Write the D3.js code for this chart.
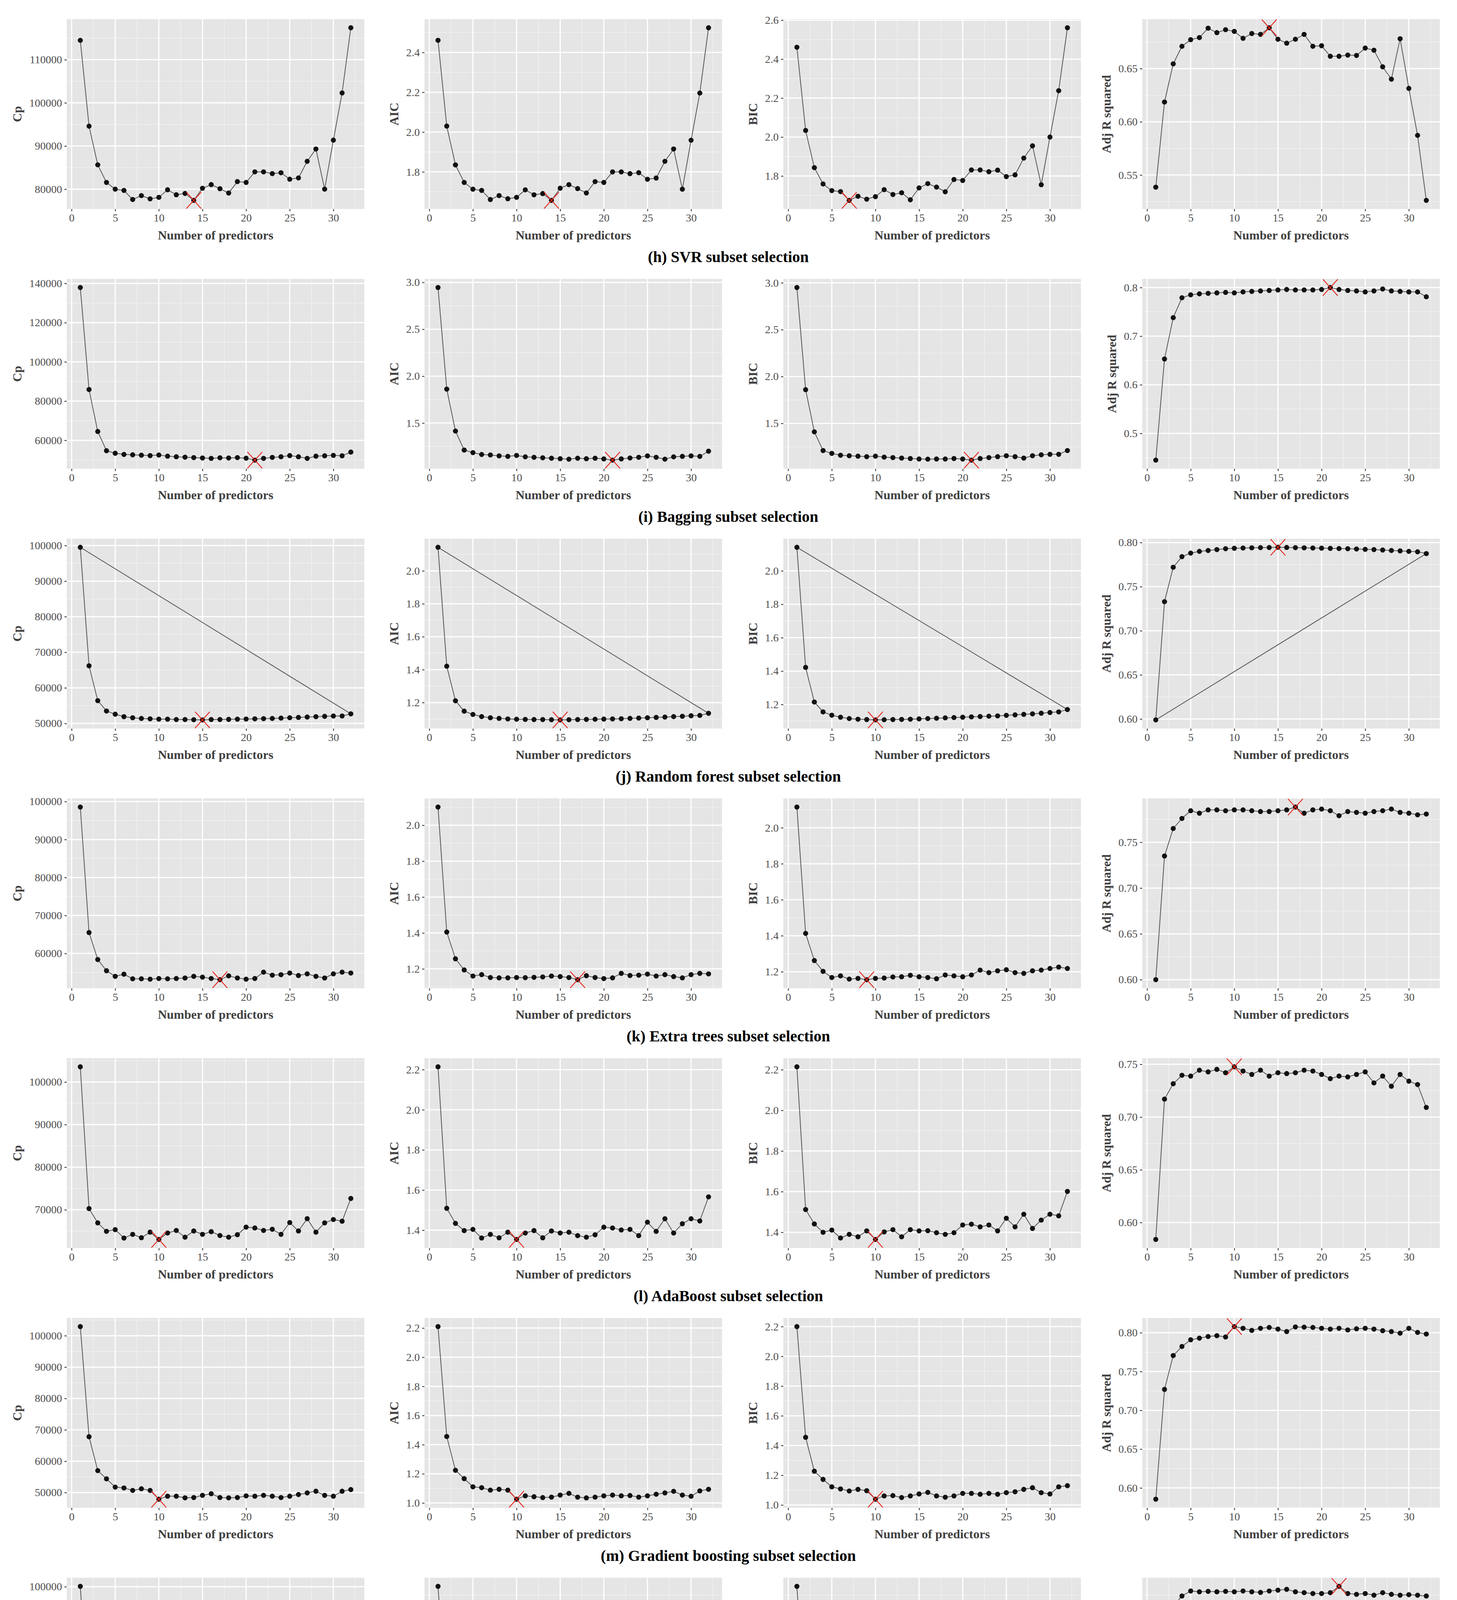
<!DOCTYPE html>
<html><head><meta charset="utf-8">
<script src="https://cdnjs.cloudflare.com/ajax/libs/d3/7.8.5/d3.min.js"></script>
<style>html,body{margin:0;padding:0;background:#fff;overflow:hidden;width:3731px;height:5368px}svg{display:block}</style></head>
<body><svg id="c" width="3731" height="5368" viewBox="0 0 3731 5368"></svg>
<script>
const xValues = d3.range(1, 33);
const xTicks = [0,5,10,15,20,25,30];
const yTitles = ["Cp","AIC","BIC","Adj R squared"];
const captions = ["(h) SVR subset selection","(i) Bagging subset selection","(j) Random forest subset selection","(k) Extra trees subset selection","(l) AdaBoost subset selection","(m) Gradient boosting subset selection","(n) CatBoost subset selection","(o) XGBoost subset selection"];

const svrCp=[114490,94600,85630,81550,80000,79700,77600,78500,77750,78100,79850,78700,79000,77400,80200,81050,80100,79100,81750,81550,84000,84000,83600,83800,82300,82600,86450,89300,80000,91350,102300,117400];
const svrAic=[2.461,2.030,1.835,1.747,1.713,1.707,1.661,1.681,1.665,1.672,1.710,1.685,1.691,1.657,1.718,1.736,1.716,1.694,1.751,1.747,1.800,1.800,1.791,1.796,1.763,1.769,1.853,1.915,1.713,1.959,2.196,2.524];
const svrBic=[2.461,2.034,1.843,1.759,1.725,1.720,1.675,1.696,1.681,1.694,1.730,1.705,1.714,1.678,1.739,1.761,1.743,1.719,1.782,1.777,1.831,1.831,1.822,1.830,1.797,1.806,1.892,1.955,1.755,2.000,2.238,2.561];
const svrR2=[0.5386,0.6186,0.6545,0.6710,0.6772,0.6792,0.6880,0.6838,0.6866,0.6850,0.6785,0.6830,0.6822,0.6884,0.6776,0.6739,0.6776,0.6822,0.6710,0.6715,0.6616,0.6616,0.6627,0.6624,0.6693,0.6673,0.6517,0.6401,0.6781,0.6314,0.5873,0.5262];

const bagCp=[137900,85900,64500,54700,53400,52800,52600,52400,52200,52500,51900,51600,51400,51200,51000,50800,51100,51000,51200,50900,49900,50800,51300,51600,52200,51600,50800,51900,52100,52300,52100,54000];
const bagAic=[2.945,1.862,1.415,1.212,1.185,1.165,1.160,1.150,1.145,1.155,1.140,1.135,1.130,1.125,1.120,1.115,1.125,1.120,1.125,1.118,1.105,1.118,1.128,1.135,1.150,1.135,1.115,1.140,1.145,1.150,1.145,1.200];
const bagBic=[2.950,1.860,1.410,1.210,1.180,1.160,1.155,1.150,1.145,1.150,1.140,1.135,1.130,1.125,1.120,1.118,1.120,1.120,1.125,1.120,1.108,1.125,1.135,1.145,1.155,1.145,1.130,1.155,1.165,1.170,1.170,1.210];
const bagR2=[0.445,0.653,0.738,0.779,0.785,0.787,0.788,0.789,0.790,0.789,0.791,0.792,0.793,0.794,0.795,0.796,0.795,0.795,0.795,0.796,0.800,0.796,0.794,0.793,0.791,0.793,0.797,0.793,0.792,0.791,0.791,0.781];

const rfCp=[99500,66200,56400,53500,52600,51900,51600,51400,51300,51200,51200,51100,51100,51050,51000,51100,51100,51150,51200,51250,51300,51350,51400,51500,51600,51700,51800,51900,52000,52100,52100,52700];
const rfAic=[2.143,1.421,1.211,1.148,1.128,1.115,1.108,1.104,1.101,1.099,1.098,1.097,1.097,1.096,1.095,1.096,1.097,1.098,1.099,1.100,1.101,1.102,1.104,1.106,1.108,1.110,1.112,1.115,1.117,1.120,1.122,1.135];
const rfBic=[2.141,1.422,1.215,1.156,1.136,1.124,1.116,1.112,1.110,1.108,1.109,1.110,1.111,1.112,1.114,1.116,1.118,1.120,1.122,1.124,1.126,1.128,1.130,1.132,1.135,1.138,1.141,1.144,1.148,1.152,1.156,1.170];
const rfR2=[0.599,0.733,0.772,0.784,0.788,0.790,0.791,0.792,0.793,0.7935,0.7938,0.794,0.7942,0.7943,0.7946,0.7944,0.7942,0.794,0.7938,0.7936,0.7934,0.7932,0.793,0.7927,0.7923,0.792,0.7915,0.791,0.7905,0.790,0.7895,0.7875];

const etCp=[98550,65500,58400,55450,53970,54540,53320,53320,53230,53400,53320,53400,53540,53970,53760,53400,53100,54100,53540,53230,53400,55070,54280,54410,54850,54190,54630,53970,53540,54630,55070,54850];
const etAic=[2.101,1.405,1.256,1.194,1.160,1.168,1.152,1.150,1.150,1.152,1.151,1.153,1.155,1.160,1.157,1.152,1.140,1.162,1.152,1.146,1.150,1.175,1.163,1.165,1.171,1.160,1.168,1.157,1.150,1.168,1.175,1.172];
const etBic=[2.115,1.413,1.262,1.202,1.168,1.177,1.159,1.163,1.156,1.163,1.165,1.171,1.172,1.180,1.172,1.168,1.161,1.182,1.177,1.172,1.182,1.209,1.195,1.205,1.211,1.195,1.191,1.205,1.209,1.218,1.226,1.218];
const etR2=[0.600,0.735,0.765,0.776,0.7844,0.7817,0.7853,0.7853,0.7844,0.7853,0.7853,0.7844,0.7835,0.7835,0.7844,0.7853,0.7884,0.7817,0.7853,0.7862,0.7844,0.7790,0.7835,0.7826,0.7817,0.7835,0.7844,0.7862,0.7826,0.7817,0.7799,0.7808];

const adaCp=[103560,70280,66920,64940,65340,63360,64230,63440,64740,63040,64550,65140,63560,65020,64230,64860,63950,63560,64150,65930,65730,65140,65420,64230,67000,65020,67910,64740,66920,67710,67310,72650];
const adaAic=[2.214,1.509,1.434,1.398,1.404,1.361,1.379,1.362,1.390,1.354,1.386,1.398,1.362,1.396,1.386,1.390,1.373,1.365,1.377,1.415,1.411,1.401,1.404,1.373,1.440,1.394,1.457,1.386,1.432,1.457,1.446,1.566];
const adaBic=[2.214,1.512,1.441,1.400,1.411,1.372,1.390,1.378,1.407,1.365,1.402,1.413,1.378,1.413,1.407,1.408,1.398,1.390,1.398,1.436,1.440,1.427,1.436,1.407,1.469,1.427,1.489,1.419,1.460,1.489,1.481,1.601];
const adaR2=[0.584,0.717,0.7316,0.7396,0.7388,0.7444,0.7428,0.7452,0.742,0.7476,0.7436,0.7404,0.7444,0.7388,0.742,0.7412,0.742,0.7444,0.7436,0.7404,0.7364,0.7388,0.738,0.7404,0.7428,0.7324,0.7388,0.7292,0.7404,0.734,0.7308,0.7091];

const gbCp=[102900,67790,57000,54370,51740,51470,50680,51210,50680,47890,48840,48840,48320,48420,49110,49630,48420,48320,48420,48950,48840,49110,48840,48420,48840,49370,49890,50420,49110,48840,50420,50950];
const gbAic=[2.210,1.456,1.224,1.167,1.111,1.105,1.088,1.094,1.088,1.026,1.049,1.043,1.037,1.040,1.054,1.066,1.040,1.035,1.040,1.049,1.054,1.049,1.051,1.040,1.049,1.060,1.069,1.080,1.054,1.046,1.083,1.094];
const gbBic=[2.200,1.455,1.227,1.172,1.122,1.108,1.094,1.105,1.096,1.039,1.061,1.063,1.050,1.061,1.074,1.085,1.061,1.052,1.061,1.078,1.078,1.072,1.078,1.072,1.083,1.089,1.105,1.116,1.083,1.074,1.122,1.130];
const gbR2=[0.5855,0.727,0.7706,0.7823,0.7909,0.7930,0.7951,0.7962,0.7945,0.8079,0.8057,0.8030,0.8057,0.8068,0.8047,0.8015,0.8075,0.8072,0.8068,0.8057,0.8047,0.8057,0.8036,0.8051,0.8057,0.8047,0.8026,0.8015,0.7994,0.8057,0.8004,0.7983];

const catCp=[100090,65300,59010,56180,54830,55150,55280,55060,55280,55150,54970,55420,54830,55060,54610,54830,55510,55960,56050,55960,55510,53930,55960,56400,56760,56180,55960,56400,56630,56490,56630,57080];
const catAic=[2.149,1.410,1.276,1.221,1.192,1.197,1.199,1.194,1.199,1.197,1.193,1.202,1.190,1.194,1.185,1.192,1.210,1.216,1.213,1.216,1.207,1.166,1.211,1.216,1.221,1.211,1.204,1.221,1.223,1.221,1.221,1.232];
const catBic=[2.150,1.401,1.266,1.211,1.167,1.186,1.190,1.188,1.190,1.192,1.186,1.192,1.200,1.192,1.186,1.190,1.209,1.221,1.221,1.224,1.217,1.173,1.228,1.233,1.243,1.231,1.238,1.246,1.243,1.247,1.249,1.259];
const catR2=[0.5982,0.7387,0.7630,0.7738,0.7792,0.7783,0.7788,0.7783,0.7788,0.7783,0.7792,0.7783,0.7777,0.7792,0.7801,0.7810,0.7783,0.7774,0.7765,0.7765,0.7774,0.7842,0.7765,0.7756,0.7765,0.7747,0.7774,0.7756,0.7747,0.7752,0.7747,0.7738];

const xgbCp=[105260,80700,58190,54680,52630,51170,51050,50880,48540,48710,47370,47540,47370,47660,46780,47370,47540,47780,47370,47660,47540,48540,48830,48540,48360,48540,48250,47950,47660,47780,48130,49120];
const xgbAic=[2.263,1.732,1.246,1.170,1.126,1.088,1.084,1.082,1.034,1.032,1.009,1.013,1.006,1.013,0.994,1.006,1.013,1.019,1.013,1.019,1.013,1.032,1.044,1.034,1.032,1.034,1.029,1.021,1.019,1.013,1.021,1.051];
const xgbBic=[2.266,1.740,1.252,1.179,1.139,1.108,1.102,1.102,1.046,1.046,1.027,1.025,1.021,1.027,1.015,1.025,1.033,1.037,1.042,1.040,1.037,1.071,1.071,1.067,1.067,1.065,1.067,1.059,1.055,1.059,1.071,1.090];
const xgbR2=[0.5774,0.6759,0.7658,0.7814,0.7889,0.7936,0.7948,0.7965,0.8066,0.8054,0.8106,0.8113,0.8120,0.8113,0.8137,0.8125,0.8113,0.8120,0.8101,0.8106,0.8125,0.8066,0.8059,0.8066,0.8073,0.8066,0.8078,0.8089,0.8101,0.8106,0.8089,0.8054];

const yTicks = [
 [[80000,90000,100000,110000],[1.8,2.0,2.2,2.4],[1.8,2.0,2.2,2.4,2.6],[0.55,0.60,0.65]],
 [[60000,80000,100000,120000,140000],[1.0,1.5,2.0,2.5,3.0],[1.0,1.5,2.0,2.5,3.0],[0.5,0.6,0.7,0.8]],
 [[50000,60000,70000,80000,90000,100000],[1.2,1.4,1.6,1.8,2.0],[1.2,1.4,1.6,1.8,2.0],[0.60,0.65,0.70,0.75,0.80]],
 [[60000,70000,80000,90000,100000],[1.2,1.4,1.6,1.8,2.0],[1.2,1.4,1.6,1.8,2.0],[0.60,0.65,0.70,0.75]],
 [[70000,80000,90000,100000],[1.4,1.6,1.8,2.0,2.2],[1.4,1.6,1.8,2.0,2.2],[0.60,0.65,0.70,0.75]],
 [[50000,60000,70000,80000,90000,100000],[1.0,1.2,1.4,1.6,1.8,2.0,2.2],[1.0,1.2,1.4,1.6,1.8,2.0,2.2],[0.60,0.65,0.70,0.75,0.80]],
 [[60000,70000,80000,90000,100000],[1.2,1.4,1.6,1.8,2.0,2.2],[1.2,1.4,1.6,1.8,2.0,2.2],[0.60,0.65,0.70,0.75]],
 [[50000,60000,70000,80000,90000,100000],[1.0,1.2,1.4,1.6,1.8,2.0,2.2],[1.0,1.2,1.4,1.6,1.8,2.0,2.2],[0.60,0.65,0.70,0.75,0.80]]
];
const yFormats = [
 ["d",".1f",".1f",".2f"],["d",".1f",".1f",".1f"],["d",".1f",".1f",".2f"],["d",".1f",".1f",".2f"],
 ["d",".1f",".1f",".2f"],["d",".1f",".1f",".2f"],["d",".1f",".1f",".2f"],["d",".1f",".1f",".2f"]];
const rows = [
 [svrCp,svrAic,svrBic,svrR2],[bagCp,bagAic,bagBic,bagR2],[rfCp,rfAic,rfBic,rfR2],[etCp,etAic,etBic,etR2],
 [adaCp,adaAic,adaBic,adaR2],[gbCp,gbAic,gbBic,gbR2],[catCp,catAic,catBic,catR2],[xgbCp,xgbAic,xgbBic,xgbR2]];
const closedRows = [false,false,true,false,false,false,false,false];

const svg = d3.select("#c");
const FONT = "'Liberation Serif','Times New Roman',serif";
const panelLefts = [171,1087,2006,2925], PW = 762, PH = 486;
const rowTop = r => 49 + r*665;

rows.forEach((series, r) => {
  const top = rowTop(r);
  series.forEach((vals, c) => {
    const left = panelLefts[c];
    const g = svg.append("g").attr("transform", `translate(${left},${top})`);
    const x = d3.scaleLinear().domain([1 - 31*0.05, 32 + 31*0.05]).range([0, PW]);
    const ext = d3.extent(vals), pad = (ext[1]-ext[0])*0.05;
    const y = d3.scaleLinear().domain([ext[0]-pad, ext[1]+pad]).range([PH, 0]);
    g.append("rect").attr("width", PW).attr("height", PH).attr("fill", "#e5e5e5");
    const ticks = yTicks[r][c].filter(t => t >= y.domain()[0] && t <= y.domain()[1]);
    const step = yTicks[r][c][1] - yTicks[r][c][0];
    const minors = [];
    for (let t = yTicks[r][c][0] - step/2; t <= y.domain()[1]; t += step) if (t >= y.domain()[0]) minors.push(t);
    g.selectAll(".ym").data(minors).join("line").attr("x1",0).attr("x2",PW)
      .attr("y1",d=>y(d)).attr("y2",d=>y(d)).attr("stroke","#f2f2f2").attr("stroke-width",1.5);
    [2.5,7.5,12.5,17.5,22.5,27.5,32.5].forEach(t => g.append("line").attr("x1",x(t)).attr("x2",x(t)).attr("y1",0).attr("y2",PH).attr("stroke","#f2f2f2").attr("stroke-width",1.5));
    g.selectAll(".yg").data(ticks).join("line").attr("x1",0).attr("x2",PW)
      .attr("y1",d=>y(d)).attr("y2",d=>y(d)).attr("stroke","#fff").attr("stroke-width",3);
    g.selectAll(".xg").data(xTicks).join("line").attr("x1",d=>x(d)).attr("x2",d=>x(d))
      .attr("y1",0).attr("y2",PH).attr("stroke","#fff").attr("stroke-width",3);
    const xa = g.append("g").attr("transform",`translate(0,${PH})`)
      .call(d3.axisBottom(x).tickValues(xTicks).tickSize(6).tickPadding(6));
    const ya = g.append("g").call(d3.axisLeft(y).tickValues(ticks).tickFormat(d3.format(yFormats[r][c])).tickSize(6).tickPadding(6));
    [xa, ya].forEach(a => {
      a.select(".domain").remove();
      a.selectAll(".tick line").attr("stroke","#333").attr("stroke-width",2);
      a.selectAll("text").attr("fill","#4d4d4d").style("font-family",FONT).style("font-size","28px");
    });
    const pts = vals.map((v,i) => [xValues[i], v]);
    const pathPts = closedRows[r] ? pts.concat([pts[0]]) : pts;
    g.append("path").datum(pathPts).attr("fill","none").attr("stroke","#555").attr("stroke-width",2)
      .attr("d", d3.line().x(d=>x(d[0])).y(d=>y(d[1])));
    g.selectAll(".pt").data(pts).join("circle").attr("cx",d=>x(d[0])).attr("cy",d=>y(d[1]))
      .attr("r",6.5).attr("fill","#111");
    const bi = c === 3 ? d3.maxIndex(vals) : d3.minIndex(vals);
    const bx = x(xValues[bi]), by = y(vals[bi]);
    g.append("path").attr("d",`M${bx-19},${by-21}L${bx+19},${by+21}M${bx-19},${by+21}L${bx+19},${by-21}`)
      .attr("stroke","#e8231b").attr("stroke-width",2.2).attr("fill","none");
    g.append("text").attr("x",PW/2).attr("y",PH+78).attr("text-anchor","middle")
      .style("font-family",FONT).style("font-size","32px").style("font-weight","bold").attr("fill","#404040")
      .text("Number of predictors");
    let maxW = 0; ya.selectAll("text").each(function(){ maxW = Math.max(maxW, this.getComputedTextLength()); });
    g.append("text").attr("transform",`translate(${-maxW-32},${PH/2}) rotate(-90)`).attr("text-anchor","middle")
      .style("font-family",FONT).style("font-size","32px").style("font-weight","bold").attr("fill","#404040")
      .text(yTitles[c]);
  });
  svg.append("text").attr("x",1865).attr("y",top+622).attr("text-anchor","middle")
    .style("font-family",FONT).style("font-size","40px").style("font-weight","bold").attr("fill","#000")
    .text(captions[r]);
});
</script></body></html>
